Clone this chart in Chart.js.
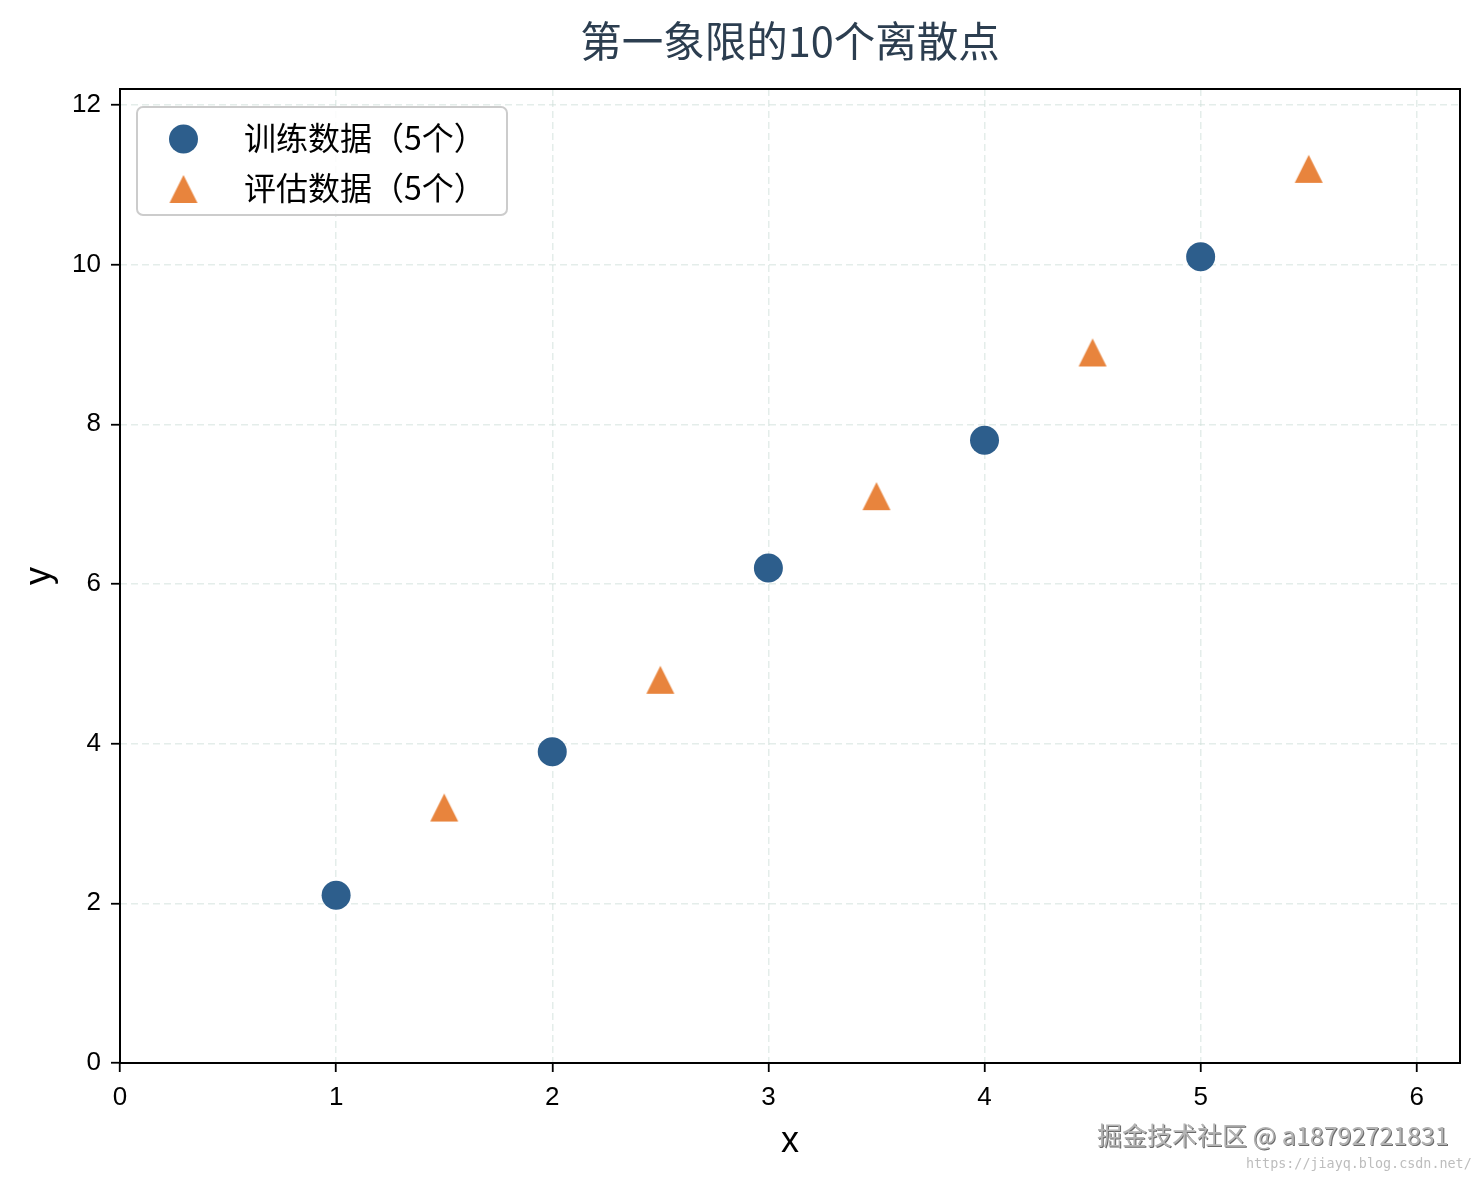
<!DOCTYPE html>
<html>
<head>
<meta charset="utf-8">
<script src="https://cdn.jsdelivr.net/npm/chart.js@4/dist/chart.umd.min.js"></script>
<style>
    body { margin: 0; background: #ffffff; }
    #wrap { position: relative; width: 1480px; height: 1180px; }
    #mark {
        position: absolute; left: 1097px; top: 1118px;
        font: 25px "Noto Sans CJK SC", "Liberation Sans", sans-serif;
        color: #b4b4b4; text-shadow: 1px 1px 0 #6a6a6a; white-space: nowrap; line-height: 32px;
    }
    #url {
        position: absolute; left: 1246px; top: 1155px;
        font: 13.4px "DejaVu Sans Mono", monospace; color: #bdbdbd; white-space: nowrap; line-height: 18px;
    }
</style>
</head>
<body>
<div id="wrap">
    <canvas id="chart"></canvas>
    <div id="mark">掘金技术社区 @ a18792721831</div>
    <div id="url">https://jiayq.blog.csdn.net/</div>
</div>
<script>
// data
const TITLE = "第一象限的10个离散点"
const SERIES_LABELS = ["训练数据（5个）", "评估数据（5个）"]
const TRAIN_X = [1, 2, 3, 4, 5]
const TRAIN_Y = [2.1, 3.9, 6.2, 7.8, 10.1]
const EVAL_X = [1.5, 2.5, 3.5, 4.5, 5.5]
const EVAL_Y = [3.2, 4.8, 7.1, 8.9, 11.2]
const X_TICKS = [0, 1, 2, 3, 4, 5, 6]
const Y_TICKS = [0, 2, 4, 6, 8, 10, 12]

const BLUE = "#2d5e8c"
const ORANGE = "#e8843d"

Chart.defaults.font.family = '"Liberation Sans", "Noto Sans CJK SC", sans-serif'
Chart.defaults.color = "#000000"

function toPoints(xs, ys) {
    var pts = []
    for (var i = 0; i < xs.length; i++) {
        pts.push({ x: xs[i], y: ys[i] })
    }
    return pts
}

// matplotlib style "^" marker: as wide as it is tall, centred on its box
function makeTriangle(size, color) {
    var c = document.createElement("canvas")
    c.width = size + 2
    c.height = size + 2
    var g = c.getContext("2d")
    g.fillStyle = color
    g.beginPath()
    g.moveTo(1 + size / 2, 1)
    g.lineTo(1 + size, 1 + size)
    g.lineTo(1, 1 + size)
    g.closePath()
    g.fill()
    return c
}

const triangle = makeTriangle(28, ORANGE)

// closed box around the plot area
const framePlugin = {
    id: "frame",
    afterDatasetsDraw: function(chart) {
        var a = chart.chartArea
        var ctx = chart.ctx
        ctx.save()
        ctx.strokeStyle = "#000000"
        ctx.lineWidth = 2
        ctx.strokeRect(a.left, a.top, a.right - a.left, a.bottom - a.top)
        ctx.restore()
    }
}

// legend in the upper left corner of the plot area
const legendPlugin = {
    id: "innerLegend",
    afterDraw: function(chart) {
        var a = chart.chartArea
        var ctx = chart.ctx
        var bx = a.left + 17, by = a.top + 18, bw = 370, bh = 108
        ctx.save()
        ctx.fillStyle = "rgba(255,255,255,0.85)"
        ctx.strokeStyle = "#cccccc"
        ctx.lineWidth = 2
        ctx.beginPath()
        ctx.roundRect(bx, by, bw, bh, 6)
        ctx.fill()
        ctx.stroke()

        ctx.font = '32px "Noto Sans CJK SC", "Liberation Sans", sans-serif'
        ctx.textBaseline = "middle"
        chart.data.datasets.forEach(function(ds, i) {
            var cy = by + 32 + i * 50
            ctx.fillStyle = ds.backgroundColor
            Chart.helpers.drawPoint(ctx, {
                pointStyle: ds.pointStyle,
                radius: ds.pointRadius,
                rotation: 0,
                borderWidth: 0
            }, bx + 46.5, cy)
            ctx.fillStyle = "#000000"
            ctx.fillText(ds.label, bx + 107, cy - 1)
        })
        ctx.restore()
    }
}

function axisTicks(values) {
    return function(scale) {
        scale.ticks = values.map(function(v) { return { value: v } })
    }
}

var config = {
    type: "scatter",
    data: {
        datasets: [{
            label: SERIES_LABELS[0],
            data: toPoints(TRAIN_X, TRAIN_Y),
            pointStyle: "circle",
            pointRadius: 14.5,
            pointHoverRadius: 14.5,
            backgroundColor: BLUE,
            borderColor: BLUE,
            borderWidth: 0
        }, {
            label: SERIES_LABELS[1],
            data: toPoints(EVAL_X, EVAL_Y),
            pointStyle: triangle,
            pointRadius: 14,
            pointHoverRadius: 14,
            backgroundColor: ORANGE,
            borderColor: ORANGE,
            borderWidth: 0
        }]
    },
    options: {
        responsive: true,
        maintainAspectRatio: false,
        animation: false,
        events: [],
        layout: { padding: { left: 0, right: 20, top: 0, bottom: 0 } },
        plugins: {
            legend: { display: false },
            tooltip: { enabled: false },
            title: {
                display: true,
                fullSize: false,
                text: TITLE,
                color: "#2c3e50",
                font: { size: 41.5, weight: "normal", family: '"Noto Sans CJK SC", "Liberation Sans", sans-serif' },
                padding: { top: 16, bottom: 23.2 }
            }
        },
        scales: {
            x: {
                type: "linear",
                min: 0,
                max: 6.2,
                afterBuildTicks: axisTicks(X_TICKS),
                afterFit: function(scale) { scale.height = 117 },
                ticks: { font: { size: 26 }, padding: 10, color: "#000000" },
                grid: { color: "rgba(205, 222, 216, 0.55)", lineWidth: 1.5, tickColor: "#000000", tickWidth: 1.8, tickLength: 9 },
                border: { display: false, dash: [7, 4] },
                title: { display: true, text: "x", font: { size: 36 }, color: "#000000", padding: { top: 0, bottom: 16 } }
            },
            y: {
                type: "linear",
                min: 0,
                max: 12.2,
                afterBuildTicks: axisTicks(Y_TICKS),
                afterFit: function(scale) { scale.width = 120 },
                ticks: { font: { size: 26 }, padding: 10, color: "#000000" },
                grid: { color: "rgba(205, 222, 216, 0.55)", lineWidth: 1.5, tickColor: "#000000", tickWidth: 1.8, tickLength: 9 },
                border: { display: false, dash: [7, 4] },
                title: { display: true, text: "y", font: { size: 36 }, color: "#000000", padding: { top: 18, bottom: 0 } }
            }
        }
    },
    plugins: [framePlugin, legendPlugin]
}

const myChart = new Chart(document.getElementById("chart"), config)
</script>
</body>
</html>
